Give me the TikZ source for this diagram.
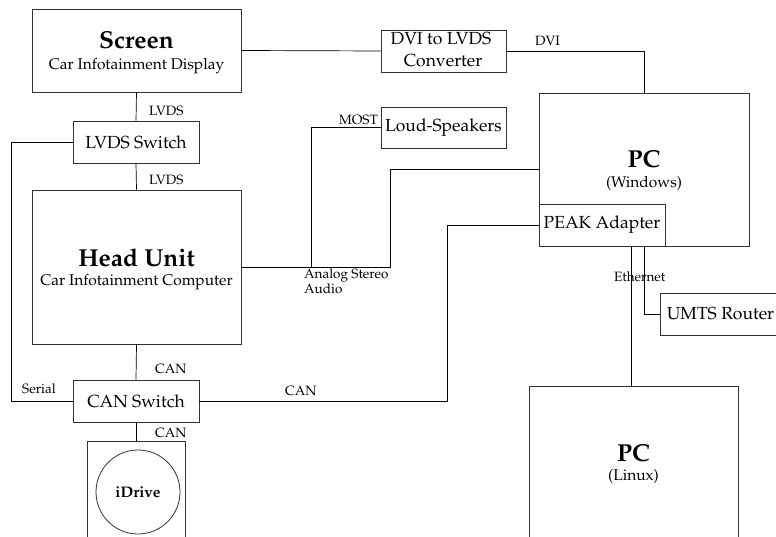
\documentclass[tikz,border=0pt]{standalone}
\usepackage[T1]{fontenc}
\usepackage{mathpazo}
\begin{document}
\begin{tikzpicture}[x=1pt,y=-1pt,
  box/.style={draw=black!80, line width=0.9pt, inner sep=0pt},
  link/.style={draw=black, line width=0.7pt},
  lbl/.style={inner sep=0pt, font=\fontsize{13.5}{15}\selectfont},
  boxtext/.style={font=\fontsize{17.5}{21}\selectfont},
  title/.style={inner sep=0pt, anchor=base, font=\fontsize{24.5}{28}\selectfont\bfseries},
  sub/.style={inner sep=0pt, anchor=base, font=\fontsize{15.5}{18}\selectfont}]

\useasboundingbox (0,0) rectangle (776,537);
\clip (0,0) rectangle (776,537);

% --- boxes -------------------------------------------------------------
\node[box, minimum width=209pt, minimum height=83pt]  (scr)  at (136.5,50.5) {};
\node[title] (scrT) at (136.5,49) {Screen};
\node[sub]   (scrS) at (136.5,70) {Car Infotainment Display};

\node[box, boxtext, minimum width=126pt, minimum height=42pt] (lsw) at (136,142) {LVDS Switch};

\node[box, minimum width=209pt, minimum height=154pt] (hu) at (136.5,267) {};
\node[title] (huT) at (136.5,266) {Head Unit};
\node[sub]   (huS) at (136.5,286) {Car Infotainment Computer};

\node[box, boxtext, minimum width=126pt, minimum height=42pt] (csw) at (136,401) {CAN Switch};

\node[box, minimum width=98pt, minimum height=120pt, anchor=north] (idr) at (136,441) {};
\node[draw=black!80, line width=0.8pt, circle, minimum size=84pt, inner sep=0pt] (knob) at (138,492) {};
\node[inner sep=0pt, anchor=base, font=\fontsize{15.3}{18}\selectfont\bfseries] (knobT) at (138,497) {iDrive};

\node[box, minimum width=125pt, minimum height=42pt] (conv) at (443.5,51) {};
\node[sub, font=\fontsize{17.5}{21}\selectfont] (convA) at (441,45) {DVI to LVDS};
\node[sub, font=\fontsize{17.5}{21}\selectfont] (convB) at (443,67) {Converter};

\node[box, boxtext, minimum width=125pt, minimum height=41pt] (spk) at (443.5,127.5) {Loud-Speakers};

\node[box, minimum width=210pt, minimum height=153pt] (pcw) at (644,169.5) {};
\node[title] (pcwT) at (644,168) {PC};
\node[sub]   (pcwS) at (644,188) {(Windows)};
\node[box, boxtext, minimum width=126pt, minimum height=42pt, anchor=south west] (peak) at (pcw.south west) {PEAK Adapter};

\node[box, boxtext, minimum width=124pt, minimum height=42pt, anchor=west] (umts) at (660,314) {\hspace*{-4pt}UMTS Router};

\node[box, minimum width=209pt, minimum height=180pt, anchor=north] (pcl) at (633.5,386) {};
\node[title] (pclT) at (633.5,461) {PC};
\node[sub]   (pclS) at (633.5,480) {(Linux)};

% --- connections -------------------------------------------------------
\draw[link] (scr.south) -- (lsw.north);
\draw[link] (lsw.south) -- (hu.north);
\draw[link] (hu.south) -- (csw.north);
\draw[link] (csw.south) -- (idr.north);
\draw[link] (lsw.west) -- ++(-61,0) |- (csw.west);
\draw[link] (scr.east) -- (conv.west);
\draw[link] (conv.east) -| (pcw.north);
\coordinate (most) at (311,267);
\draw[link] (spk.west) -| (most);
\draw[link] (hu.east) -- ++(149,0) |- (pcw.west);
\draw[link] (csw.east) -- ++(248,0) |- (peak.west);
\draw[link] (pcw.south) |- (umts.west);
\draw[link] ([xshift=-13pt]pcw.south) -- ([xshift=-13pt]pcw.south |- pcl.north);

% --- connection labels -------------------------------------------------
\node[lbl, anchor=base west] (l1) at (149,116) {LVDS};
\node[lbl, anchor=base west] (l2) at (149,185) {LVDS};
\node[lbl, anchor=base west] (l3) at (155,373) {CAN};
\node[lbl, anchor=base west] (l4) at (155,437) {CAN};
\node[lbl, anchor=base west] (l5) at (22,393) {Serial};
\node[lbl, anchor=base west] (l6) at (285,395) {CAN};
\node[lbl, anchor=base east] (l7) at (378,125) {MOST};
\node[lbl, anchor=base west] (l8) at (304,279) {Analog Stereo};
\node[lbl, anchor=base west] (l9) at (304,294) {Audio};
\node[lbl, anchor=base west] (l10) at (535,46) {DVI};
\node[lbl, anchor=base west] (l11) at (614,281) {Ethernet};
\end{tikzpicture}
\end{document}
